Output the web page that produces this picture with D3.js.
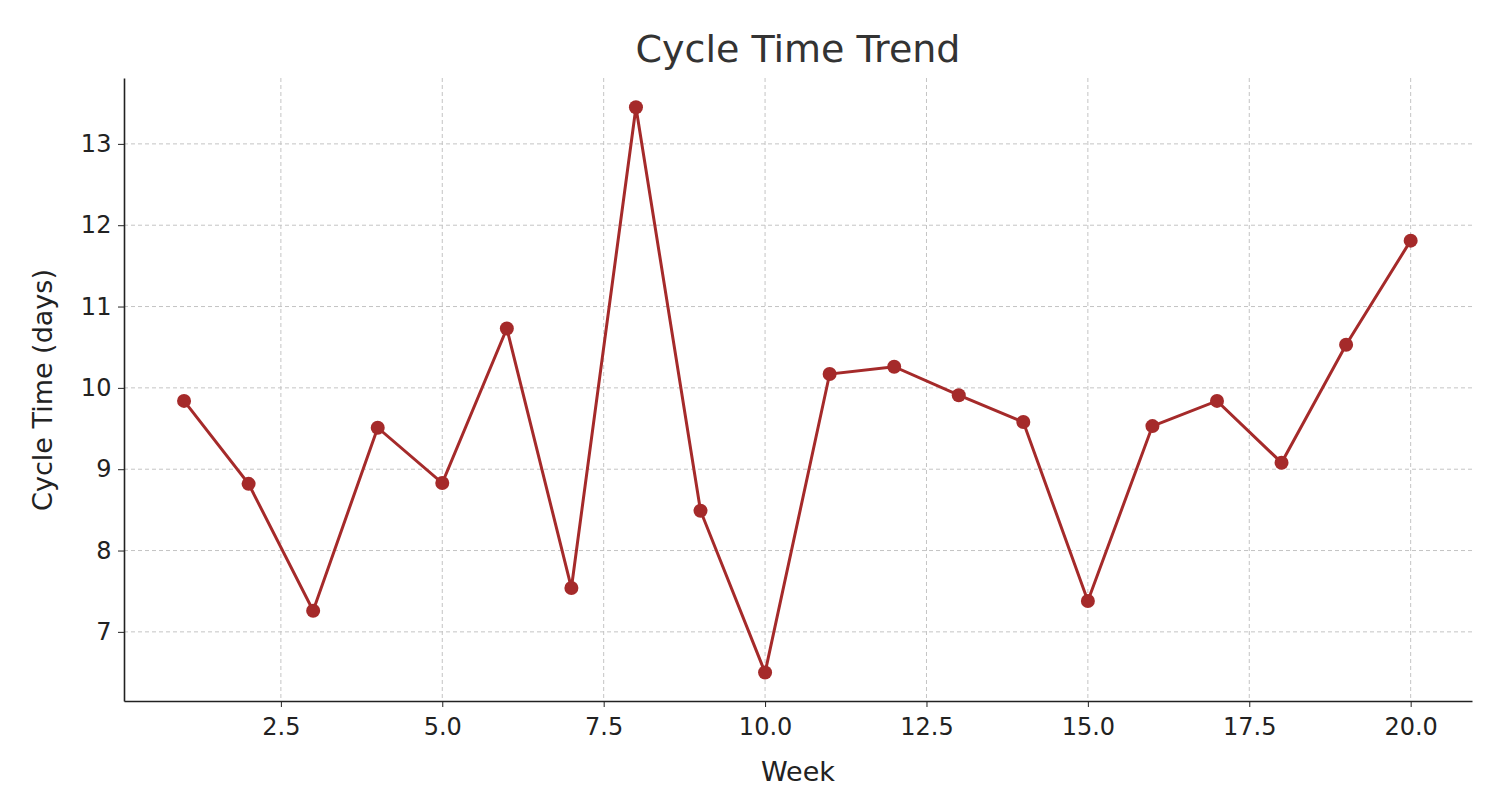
<!DOCTYPE html>
<html><head><meta charset="utf-8">
<script src="https://cdn.jsdelivr.net/npm/d3@7"></script>
<style>body{margin:0;background:#fff}text{font-family:"DejaVu Sans",sans-serif}</style>
</head><body><svg id="c" width="1491" height="808"></svg>
<script>
const weeks=[1,2,3,4,5,6,7,8,9,10,11,12,13,14,15,16,17,18,19,20];
const cycleTime=[9.84,8.82,7.26,9.51,8.83,10.73,7.54,13.45,8.49,6.50,10.17,10.26,9.91,9.58,7.38,9.53,9.84,9.08,10.53,11.81];
const xTicks=[2.5,5.0,7.5,10.0,12.5,15.0,17.5,20.0];
const yTicks=[7,8,9,10,11,12,13];
const L=124,R=1472,T=78,B=701;
const svg=d3.select("#c");
const x=d3.scaleLinear().domain([0.07,20.95]).range([L,R]);
const y=d3.scaleLinear().domain([6.15,13.81]).range([B,T]);
const g=svg.append("g");
g.selectAll(".gx").data(xTicks).join("line").attr("x1",d=>x(d)).attr("x2",d=>x(d)).attr("y1",T).attr("y2",B).attr("stroke","#c4c4c4").attr("stroke-dasharray","4,3");
g.selectAll(".gy").data(yTicks).join("line").attr("y1",d=>y(d)).attr("y2",d=>y(d)).attr("x1",L).attr("x2",R).attr("stroke","#c4c4c4").attr("stroke-dasharray","4,3");
const xa=svg.append("g").attr("transform",`translate(0,${B})`).call(d3.axisBottom(x).tickValues(xTicks).tickFormat(d3.format(".1f")).tickSizeInner(6).tickSizeOuter(0));
const ya=svg.append("g").attr("transform",`translate(${L},0)`).call(d3.axisLeft(y).tickValues(yTicks).tickSizeInner(6).tickSizeOuter(0));
[xa,ya].forEach(a=>{a.attr("font-size",null).attr("font-family",null);a.selectAll("text").style("font-size","24px").attr("fill","#222");a.select(".domain").attr("stroke","#222").attr("stroke-width",1.6);a.selectAll(".tick line").attr("stroke","#222");});
xa.selectAll("text").attr("dy","1.05em");
ya.selectAll("text").attr("dx","-0.15em");
const line=d3.line().x((d,i)=>x(weeks[i])).y(d=>y(d));
svg.append("path").datum(cycleTime).attr("d",line).attr("fill","none").attr("stroke","#a52a2a").attr("stroke-width",3);
svg.selectAll(".pt").data(cycleTime).join("circle").attr("cx",(d,i)=>x(weeks[i])).attr("cy",d=>y(d)).attr("r",7).attr("fill","#a52a2a");
svg.append("text").attr("x",798).attr("y",62).attr("text-anchor","middle").style("font-size","38px").attr("fill","#333").text("Cycle Time Trend");
svg.append("text").attr("x",798).attr("y",781).attr("text-anchor","middle").style("font-size","27px").attr("fill","#222").text("Week");
svg.append("text").attr("transform","translate(52,390) rotate(-90)").attr("text-anchor","middle").style("font-size","27px").attr("fill","#222").text("Cycle Time (days)");
</script></body></html>
